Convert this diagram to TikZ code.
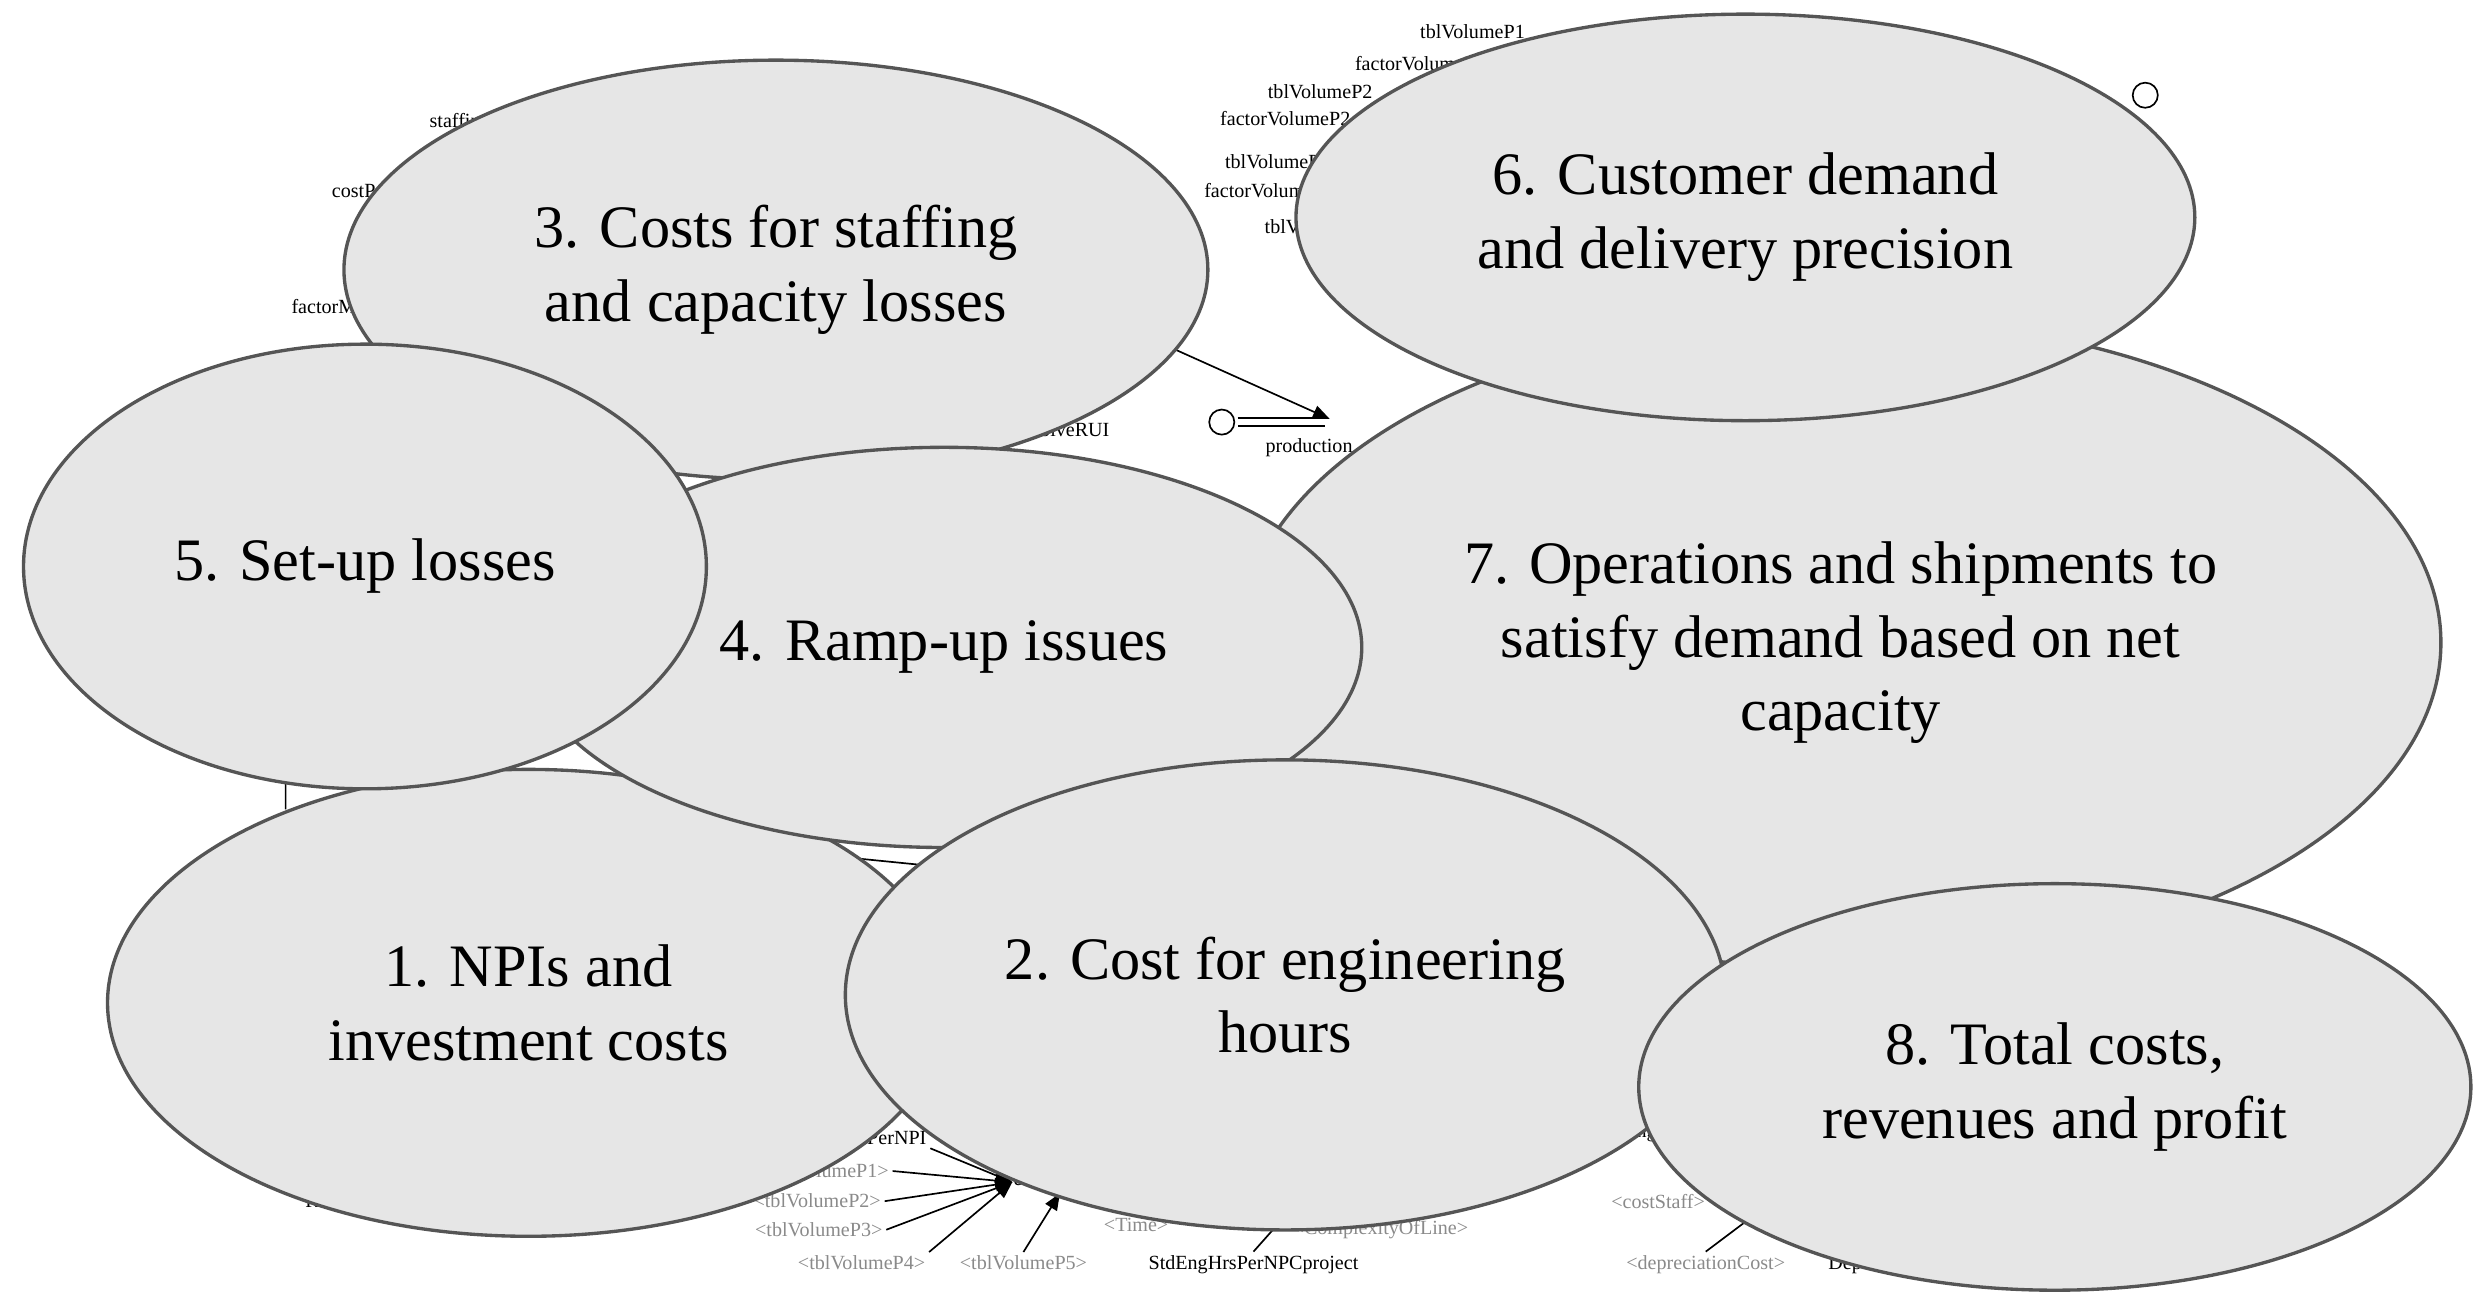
\documentclass[tikz,border=0pt]{standalone}
\usepackage{fontspec}
\setmainfont{Liberation Serif}
\usetikzlibrary{shapes.geometric,arrows.meta}
\definecolor{ellfill}{HTML}{E6E6E6}
\definecolor{ellline}{HTML}{555555}
\definecolor{lbl}{HTML}{8A8A8A}
\begin{document}
\begin{tikzpicture}[x=0.01cm,y=-0.01cm,
  blob/.style={ellipse,fill=ellfill,draw=ellline,line width=0.6pt,inner sep=0pt,
    align=center,font=\fontsize{10.8}{13.2}\selectfont},
  var/.style={font=\fontsize{3.6}{4}\selectfont,inner sep=0.5pt},
  gvar/.style={var,text=lbl},
  lnk/.style={line width=0.3pt,-{Triangle[length=3pt,width=2.4pt]}}]
\useasboundingbox (0,0) rectangle (1568,826);
% background model fragments
\node[var] (v1) at (928,20) {tblVolumeP1};
\node[var] (v2) at (895,40) {factorVolumeP1};
\node[var] (v3) at (832,58) {tblVolumeP2};
\node[var] (v4) at (810,75) {factorVolumeP2};
\node[var] (v5) at (805,102) {tblVolumeP3};
\node[var] (v6) at (800,120) {factorVolumeP3};
\node[var] (v7) at (830,143) {tblVolumeP4};
\node[var] (s1) at (290,77) {staffing};
\node[var] (s2) at (240,120) {costPerStaff};
\node[var] (s3) at (215,193) {factorModel};
\node[var] (r1) at (670,271) {resolveRUI};
\node[var] (p1) at (825,282) {production};
\node[var] (ru) at (215,757) {RUI-rate};
\node[var] (n1) at (555,717) {costPerNPI};
\node[gvar] (t1) at (520,738) {<tblVolumeP1>};
\node[gvar] (t2) at (515,757) {<tblVolumeP2>};
\node[gvar] (t3) at (516,775) {<tblVolumeP3>};
\node[gvar] (t4) at (543,796) {<tblVolumeP4>};
\node[gvar] (t5) at (645,796) {<tblVolumeP5>};
\node[gvar] (tm) at (716,772) {<Time>};
\node[gvar] (cl) at (870,775) {<ComplexityOfLine>};
\node[var] (sd) at (790,797) {StdEngHrsPerNPCproject};
\node[gvar] (cs) at (1045,757) {<costStaff>};
\node[gvar] (dc) at (1075,797) {<depreciationCost>};
\node[var] (de) at (1185,797) {Depreciation};
\node[var] (eh) at (648,745) {eng};
\node[var] (ec) at (1035,715) {eng};
\coordinate (hub) at (638,745);
\draw[lnk] (n1.south east) -- (hub);
\draw[lnk] (t1.east) -- (hub);
\draw[lnk] (t2.east) -- (hub);
\draw[lnk] (t3.east) -- (hub);
\draw[lnk] (t4.north east) -- (hub);
\draw[lnk] (t5.north) -- (668,752);
\draw[line width=0.3pt] (sd.north) -- (820,755);
\draw[line width=0.3pt] (dc.north) -- (1100,770);
\coordinate (vv) at (838,264);
\draw[lnk] (740,220) -- (vv);
\draw[line width=0.3pt,double,double distance=1.2pt] (780,266) -- (835,266);
\node[draw,line width=0.3pt,circle,minimum size=4.5pt,inner sep=0pt] (cld1) at (770,266) {};
\node[draw,line width=0.3pt,circle,minimum size=4.5pt,inner sep=0pt] (cld2) at (1352,60) {};
\draw[line width=0.3pt] (180,490) -- (180,510) (530,540) -- (580,545);
% ellipses
\node[blob,minimum width=544pt*0.2846,minimum height=264pt*0.2846] (e3) at (489,170) {3. Costs for staffing\\and capacity losses};
\node[blob,minimum width=756pt*0.2846,minimum height=410pt*0.2846] (e7) at (1160,405) {7. Operations and shipments to\\satisfy demand based on net\\capacity};
\node[blob,minimum width=566pt*0.2846,minimum height=256pt*0.2846] (e6) at (1100,137) {6. Customer demand\\and delivery precision};
\node[blob,minimum width=530pt*0.2846,minimum height=294pt*0.2846] (e1) at (333,632) {1. NPIs and\\investment costs};
\node[blob,minimum width=526pt*0.2846,minimum height=252pt*0.2846] (e4) at (595,408) {4. Ramp-up issues};
\node[blob,minimum width=430pt*0.2846,minimum height=280pt*0.2846] (e5) at (230,357) {5. Set-up losses};
\node[blob,minimum width=554pt*0.2846,minimum height=296pt*0.2846] (e2) at (810,627) {2. Cost for engineering\\hours};
\node[blob,minimum width=524pt*0.2846,minimum height=256pt*0.2846] (e8) at (1295,685) {8. Total costs,\\revenues and profit};
\end{tikzpicture}
\end{document}
